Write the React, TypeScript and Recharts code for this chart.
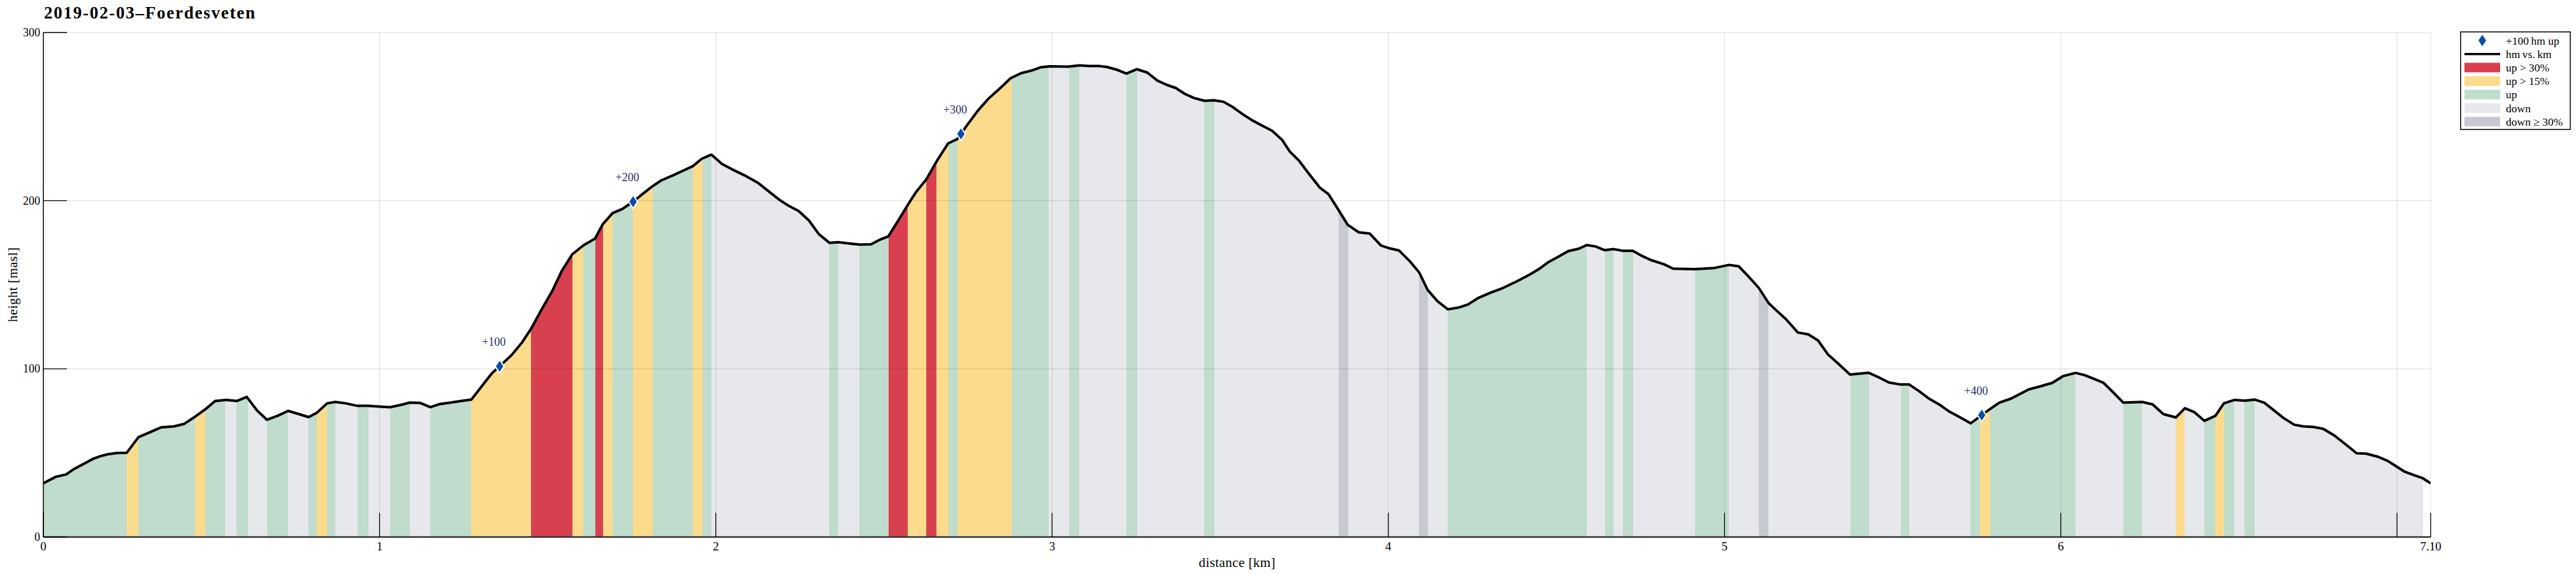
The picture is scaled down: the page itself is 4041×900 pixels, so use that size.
import React from 'react';
import { ComposedChart, Area, Scatter, XAxis, YAxis, ReferenceLine } from 'recharts';

const distanceKm = [
  0.0, 0.037, 0.068, 0.091, 0.122, 0.149, 0.172, 0.192, 0.219, 0.248, 0.283, 0.312, 0.35, 0.389, 0.418,
  0.451, 0.482, 0.511, 0.544, 0.576, 0.605, 0.635, 0.665, 0.697, 0.728, 0.76, 0.789, 0.814, 0.844, 0.868,
  0.899, 0.934, 0.965, 1.0, 1.031, 1.062, 1.089, 1.121, 1.151, 1.18, 1.211, 1.242, 1.273, 1.304, 1.335,
  1.357, 1.393, 1.424, 1.451, 1.482, 1.513, 1.542, 1.573, 1.606, 1.641, 1.664, 1.693, 1.722, 1.754, 1.784,
  1.813, 1.838, 1.873, 1.904, 1.932, 1.958, 1.987, 2.018, 2.047, 2.085, 2.124, 2.155, 2.19, 2.217, 2.246,
  2.277, 2.306, 2.338, 2.364, 2.401, 2.428, 2.462, 2.489, 2.513, 2.541, 2.571, 2.596, 2.626, 2.657, 2.691,
  2.718, 2.749, 2.78, 2.811, 2.846, 2.877, 2.908, 2.939, 2.966, 2.993, 3.047, 3.082, 3.109, 3.14, 3.163,
  3.194, 3.221, 3.252, 3.283, 3.314, 3.341, 3.368, 3.395, 3.422, 3.453, 3.482, 3.51, 3.538, 3.565, 3.595,
  3.626, 3.655, 3.684, 3.707, 3.734, 3.765, 3.796, 3.822, 3.85, 3.879, 3.912, 3.945, 3.978, 4.005, 4.032,
  4.063, 4.092, 4.117, 4.146, 4.177, 4.21, 4.237, 4.268, 4.303, 4.341, 4.38, 4.419, 4.45, 4.477, 4.504,
  4.535, 4.566, 4.59, 4.616, 4.643, 4.67, 4.697, 4.727, 4.755, 4.781, 4.82, 4.847, 4.912, 4.97, 5.013,
  5.042, 5.071, 5.102, 5.131, 5.156, 5.183, 5.218, 5.249, 5.278, 5.307, 5.342, 5.373, 5.428, 5.458, 5.489,
  5.523, 5.549, 5.578, 5.608, 5.64, 5.67, 5.701, 5.732, 5.786, 5.817, 5.852, 5.905, 5.941, 5.975, 6.006,
  6.044, 6.072, 6.099, 6.127, 6.157, 6.186, 6.242, 6.273, 6.305, 6.342, 6.369, 6.396, 6.427, 6.46, 6.485,
  6.516, 6.547, 6.577, 6.605, 6.632, 6.663, 6.694, 6.721, 6.752, 6.781, 6.814, 6.849, 6.88, 6.908, 6.942,
  6.973, 7.0, 7.023, 7.05, 7.077, 7.1,
];

const heightM = [
  32, 35.8, 37.2, 40.4, 43.7, 46.6, 48.2, 49.2, 50, 50.1, 59.4, 61.9, 65.2, 65.8, 67.2,
  71.5, 76, 80.9, 81.5, 80.9, 83.3, 75.4, 69.7, 72.1, 75, 73.1, 71.3, 74, 79.5, 80.3,
  79.5, 78, 78, 77.6, 77.2, 78.5, 79.9, 79.7, 77.2, 79.1, 79.9, 80.9, 81.7, 89.7, 97.6,
  101.5, 108.3, 115.8, 124, 135.4, 146.1, 158.3, 168.1, 173.4, 177.5, 186.1, 192.6, 195.1, 199.4, 204.3,
  208.8, 212.1, 215.1, 218, 220.6, 224.9, 227.4, 221.9, 218.8, 215.1, 210.8, 205.9, 200.4, 196.9, 193.9,
  188.2, 180.2, 174.9, 175.3, 174.5, 173.9, 174.1, 176.9, 178.8, 187.7, 197.5, 205.3, 212.7, 223.5, 234.1,
  236.6, 245.4, 253.7, 260.7, 267, 272.9, 275.8, 277.4, 279.3, 279.9, 279.7, 280.5, 280.1, 280.1, 279.5,
  277.8, 275.6, 278.2, 276.2, 271.3, 268.9, 267, 263.5, 261.1, 259.4, 259.7, 258.8, 255.6, 251.7, 247.8,
  244.5, 241.5, 236.2, 229.2, 223.9, 215.7, 207.8, 203.9, 195.1, 185.7, 181.2, 180.4, 173.4, 171.6, 170.4,
  164.2, 157.3, 146.9, 140.3, 135.4, 136.5, 138.3, 142.2, 145.2, 148.1, 151.8, 155.9, 159.6, 163.6, 166.5,
  170, 171.4, 173.6, 172.8, 170.6, 171.2, 170.2, 170.2, 167.1, 164.7, 162.2, 159.6, 159.3, 160, 161.8,
  161, 155, 148.1, 139.1, 134.4, 129.5, 121.6, 120.5, 116.9, 108.7, 102.4, 96.6, 97.7, 95, 91.9,
  90.7, 90.7, 86.8, 82.3, 78.6, 74.4, 71.1, 67.6, 75.6, 79.9, 82.3, 87.8, 89.7, 91.7, 95.6,
  97.6, 96.2, 94, 91.7, 85.8, 79.9, 80.3, 78.9, 73.1, 71.1, 76.6, 74.4, 69.1, 72.1, 79.5,
  81.5, 81.1, 81.7, 79.9, 75.6, 70.7, 66.8, 65.8, 65.4, 64.3, 60.3, 54.8, 49.8, 49.6, 47.8,
  45.2, 41.7, 38.8, 36.8, 34.9, 31.9,
];

// slope bands: start distance + category (band ends at next start)
const bandStartKm = [
  0, 0.248, 0.283, 0.451, 0.482, 0.541, 0.574, 0.608, 0.665, 0.728, 0.789, 0.814, 0.844, 0.868, 0.934,
  0.967, 1.031, 1.09, 1.151, 1.273, 1.451, 1.573, 1.606, 1.641, 1.664, 1.693, 1.754, 1.813, 1.932, 1.96,
  1.987, 2.338, 2.364, 2.427, 2.513, 2.571, 2.626, 2.657, 2.693, 2.719, 2.879, 2.99, 3.051, 3.08, 3.221,
  3.254, 3.453, 3.482, 3.852, 3.88, 4.091, 4.117, 4.176, 4.59, 4.645, 4.67, 4.697, 4.728, 4.913, 5.013,
  5.102, 5.131, 5.374, 5.429, 5.524, 5.549, 5.732, 5.759, 5.79, 6.044, 6.186, 6.242, 6.342, 6.369, 6.427,
  6.46, 6.485, 6.516, 6.547, 6.577, 7.077,
];
const bandCategory = [
  'up', 'up15', 'up', 'up15', 'up', 'down', 'up', 'down', 'up', 'down', 'up', 'up15', 'up', 'down', 'up',
  'down', 'up', 'down', 'up', 'up15', 'up30', 'up15', 'up', 'up30', 'up15', 'up', 'up15', 'up', 'up15', 'up',
  'down', 'up', 'down', 'up', 'up30', 'up15', 'up30', 'up15', 'up', 'up15', 'up', 'down', 'up', 'down', 'up',
  'down', 'up', 'down', 'down30', 'down', 'down30', 'down', 'up', 'down', 'up', 'down', 'up', 'down', 'up', 'down',
  'down30', 'down', 'up', 'down', 'up', 'down', 'up', 'up15', 'up', 'down', 'up', 'down', 'up15', 'down', 'up',
  'up15', 'up', 'down', 'up', 'down', 'none',
];

const markerDistKm = [1.357, 1.754, 2.729, 5.765];
const markerHeightM = [101.5, 199.4, 239.7, 72.5];
const markerLabels = ['+100', '+200', '+300', '+400'];

const xTicks = [0, 1, 2, 3, 4, 5, 6, 7, 7.1];
const xTickLabels = ['0', '1', '2', '3', '4', '5', '6', '', '7.10'];
const yTicks = [0, 100, 200, 300];
const yTickLabels = ['0', '100', '200', '300'];

const titleText = '2019-02-03\u2013Foerdesveten';
const xLabel = 'distance [km]';
const yLabel = 'height [masl]';
const legendLabels = ['+100\u2009hm up', 'hm\u2009vs.\u2009km', 'up > 30%', 'up > 15%', 'up', 'down', 'down \u2265 30%'];
const legendKinds = ['marker', 'line', 'up30', 'up15', 'up', 'down', 'down30'];

const COLORS: Record<string, string> = {
  up30: '#d9404f',
  up15: '#fddb8d',
  up: '#c0dccc',
  down: '#e7e8ec',
  down30: '#c7c9d1',
  none: '#ffffff',
};
const MARKER_BLUE = '#0b4cab';
const FONT = '"Liberation Serif", "DejaVu Serif", serif';

const W = 4041;
const H = 900;
const Y_AXIS_W = 60;
const X_AXIS_H = 40;
const PLOT = { left: 68, right: 3813, top: 51, bottom: 842 };
const MARGIN = {
  top: PLOT.top,
  right: W - PLOT.right,
  bottom: H - PLOT.bottom - X_AXIS_H,
  left: PLOT.left - Y_AXIS_W,
};

const data = distanceKm.map((d, i) => ({ d, h: heightM[i] }));
const markerData = markerDistKm.map((d, i) => ({ d, h: markerHeightM[i], label: markerLabels[i] }));

const dMin = distanceKm[0];
const dMax = distanceKm[distanceKm.length - 1];
const bandStops: { off: number; color: string; op: number }[] = [];
bandStartKm.forEach((s, i) => {
  const e = i + 1 < bandStartKm.length ? bandStartKm[i + 1] : dMax;
  const cat = bandCategory[i];
  const color = COLORS[cat];
  const op = cat === 'none' ? 0 : 1;
  bandStops.push({ off: (s - dMin) / (dMax - dMin), color, op });
  bandStops.push({ off: (e - dMin) / (dMax - dMin), color, op });
});

const XTick = (props: any) => {
  const { x, y, payload } = props;
  const idx = xTicks.indexOf(payload.value);
  const label = idx >= 0 ? xTickLabels[idx] : String(payload.value);
  return (
    <g>
      <line x1={x} x2={x} y1={y} y2={y - 38} stroke="#000" strokeWidth={1.3} />
      <text x={x} y={y + 21} textAnchor="middle" fontSize={19} fontFamily={FONT} fill="#000">
        {label}
      </text>
    </g>
  );
};

const YTick = (props: any) => {
  const { x, y, payload } = props;
  const idx = yTicks.indexOf(payload.value);
  const label = idx >= 0 ? yTickLabels[idx] : String(payload.value);
  return (
    <g>
      <line x1={x} x2={x + 37} y1={y} y2={y} stroke="#000" strokeWidth={1.3} />
      <text x={x - 5} y={y + 6} textAnchor="end" fontSize={18} fontFamily={FONT} fill="#000">
        {label}
      </text>
    </g>
  );
};

const MarkerShape = (props: any) => {
  const { cx, cy, payload } = props;
  if (cx == null || cy == null) return null;
  return (
    <g>
      <polygon
        points={`${cx},${cy - 10.5} ${cx + 7},${cy} ${cx},${cy + 10.5} ${cx - 7},${cy}`}
        fill={MARKER_BLUE}
        stroke="#fff"
        strokeWidth={2}
      />
      <text x={cx - 9} y={cy - 32} textAnchor="middle" fontSize={18} fontFamily={FONT} fill="#1f2f6e">
        {payload.label}
      </text>
    </g>
  );
};

const Legend = () => {
  const bx = 3860;
  const by = 50;
  const bw = 172;
  const bh = 153;
  const rowY = (i: number) => by + 13.5 + i * 21.2;
  return (
    <g>
      <rect x={bx} y={by} width={bw} height={bh} fill="#fff" stroke="#000" strokeWidth={1.5} />
      {legendKinds.map((k, i) => {
        const cy = rowY(i);
        let sw: React.ReactNode = null;
        if (k === 'marker') {
          sw = <polygon points={`3894,${cy - 9} 3900,${cy} 3894,${cy + 9} 3888,${cy}`} fill={MARKER_BLUE} />;
        } else if (k === 'line') {
          sw = <line x1={3866} x2={3922} y1={cy} y2={cy} stroke="#000" strokeWidth={3.5} />;
        } else {
          sw = <rect x={3866} y={cy - 7.5} width={56} height={15} fill={COLORS[k]} />;
        }
        return (
          <g key={k}>
            {sw}
            <text x={3931} y={cy + 6} fontSize={17.5} fontFamily={FONT} fill="#000">
              {legendLabels[i]}
            </text>
          </g>
        );
      })}
    </g>
  );
};

export default function App() {
  return (
    <div style={{ position: 'absolute', left: 0, top: 0, width: W, height: H, background: '#fff' }}>
      <ComposedChart width={W} height={H} data={data} margin={MARGIN}>
        <defs>
          <linearGradient id="slopeFill" x1="0" y1="0" x2="1" y2="0">
            {bandStops.map((s, i) => (
              <stop key={i} offset={s.off} stopColor={s.color} stopOpacity={s.op} />
            ))}
          </linearGradient>
        </defs>
        <XAxis
          dataKey="d"
          type="number"
          domain={[0, 7.1]}
          ticks={xTicks}
          interval={0}
          height={X_AXIS_H}
          tickSize={0}
          tickMargin={0}
          tickLine={false}
          axisLine={{ stroke: '#333', strokeWidth: 2.5 }}
          tick={XTick}
          allowDataOverflow
        />
        <YAxis
          type="number"
          domain={[0, 300]}
          ticks={yTicks}
          interval={0}
          width={Y_AXIS_W}
          tickSize={0}
          tickMargin={0}
          tickLine={false}
          axisLine={{ stroke: '#000', strokeWidth: 1.5 }}
          tick={YTick}
          allowDataOverflow
        />
        <Area
          type="linear"
          dataKey="h"
          stroke="#000"
          strokeWidth={4}
          strokeLinejoin="round"
          fill="url(#slopeFill)"
          fillOpacity={1}
          dot={false}
          activeDot={false}
          isAnimationActive={false}
        />
        {xTicks.filter((t) => t > 0).map((t) => (
          <ReferenceLine key={`gx${t}`} x={t} stroke="rgba(0,0,0,0.14)" strokeWidth={1} />
        ))}
        {yTicks.filter((t) => t > 0).map((t) => (
          <ReferenceLine key={`gy${t}`} y={t} stroke="rgba(0,0,0,0.14)" strokeWidth={1} />
        ))}
        <Scatter data={markerData} dataKey="h" shape={<MarkerShape />} isAnimationActive={false} />
      </ComposedChart>
      <svg width={W} height={H} style={{ position: 'absolute', left: 0, top: 0, pointerEvents: 'none' }}>
        <text
          x={69}
          y={28.5}
          fontSize={27}
          fontWeight="bold"
          fontFamily={FONT}
          fill="#000"
          textLength={331}
          lengthAdjust="spacing"
        >
          {titleText}
        </text>
        <text
          x={(PLOT.left + PLOT.right) / 2}
          y={889}
          textAnchor="middle"
          fontSize={21}
          fontFamily={FONT}
          fill="#000"
          textLength={120}
          lengthAdjust="spacing"
        >
          {xLabel}
        </text>
        <text
          x={0}
          y={0}
          transform={`translate(27, ${(PLOT.top + PLOT.bottom) / 2}) rotate(-90)`}
          textAnchor="middle"
          fontSize={21}
          fontFamily={FONT}
          fill="#000"
          textLength={117}
          lengthAdjust="spacing"
        >
          {yLabel}
        </text>
        <Legend />
      </svg>
    </div>
  );
}
